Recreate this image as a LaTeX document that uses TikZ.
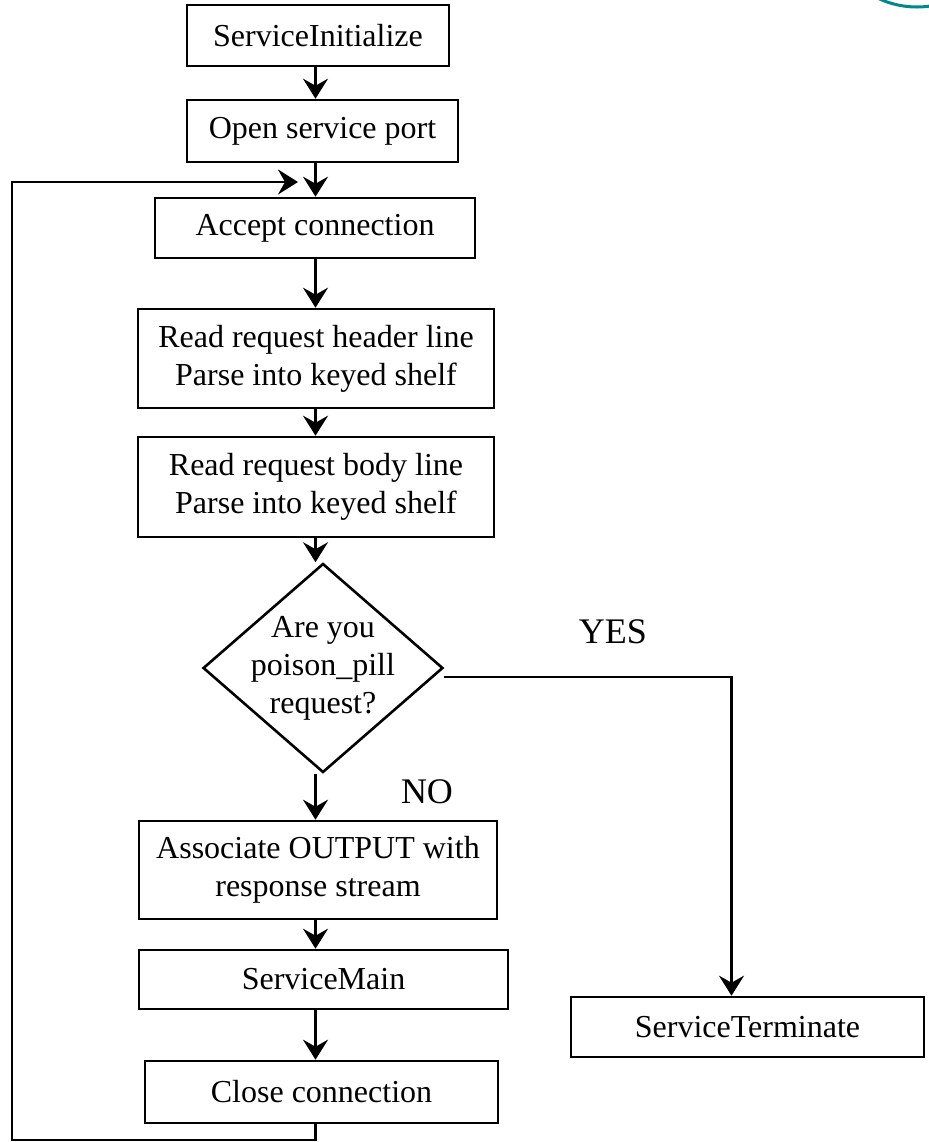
\documentclass[tikz,border=0pt]{standalone}
\usepackage{fontspec}
\setmainfont{Liberation Serif}
\usetikzlibrary{arrows.meta,shapes.geometric}
\definecolor{logoteal}{RGB}{0,136,136}

\begin{document}
\begin{tikzpicture}[x=0.5pt,y=-0.5pt,
  box/.style={draw,line width=1.3pt,inner sep=0pt,align=center,font=\fontsize{16}{19}\selectfont},
  decision/.style={draw,diamond,line width=1.3pt,inner sep=0pt},
  flow/.style={line width=1.3pt,-{Stealth[length=10pt,width=12.5pt,inset=3.5pt]}},
  answer/.style={font=\fontsize{18}{21}\selectfont}]
  \useasboundingbox (0,0) rectangle (928,1142);
  % Logo edge in the corner
  \draw[logoteal,line width=1.5pt] (917,-84) circle[radius=45.5pt];
  % Main column
  \node[box,minimum width=131pt,minimum height=30.5pt] (init) at (318,35.5) {ServiceInitialize};
  \node[box,minimum width=135.5pt,minimum height=31pt] (port) at (322.5,131) {Open service port};
  \node[box,minimum width=160pt,minimum height=30pt] (accept) at (315,228) {Accept connection};
  \node[box,minimum width=178pt,minimum height=49.5pt] (header) at (316,358.5) {Read request header line\\Parse into keyed shelf};
  \node[box,minimum width=178pt,minimum height=50pt] (body) at (316,487) {Read request body line\\Parse into keyed shelf};
  \node[decision,minimum width=120pt,minimum height=104.5pt,
    label={[align=center,font=\fontsize{16}{19}\selectfont]center:{Are you\\poison\_pill\\request?}}] (pill) at (323,668) {};
  \node[box,minimum width=179pt,minimum height=49pt] (assoc) at (318,870) {Associate OUTPUT with\\response stream};
  \node[box,minimum width=184.5pt,minimum height=29.5pt] (main) at (323.5,979.5) {ServiceMain};
  \node[box,minimum width=176.5pt,minimum height=31pt] (close) at (321.5,1092) {Close connection};
  % Exit branch
  \node[box,minimum width=176.5pt,minimum height=30pt] (terminate) at (747.5,1027) {ServiceTerminate};
  \node[answer] (yes) at (613,632) {YES};
  \node[answer] (no) at (427,792) {NO};
  % Helper points
  \coordinate (spine) at (315.5,0);
  \coordinate (merge) at (298,182);
  \coordinate (loopbottom) at (12,1140);
  \coordinate (yesturn) at (731.5,677);
  % Straight arrows
  \draw[flow] (init.south -| spine) -- (port.north -| spine);
  \draw[flow] (port.south -| spine) -- (accept.north -| spine);
  \draw[flow] (accept.south -| spine) -- (header.north -| spine);
  \draw[flow] (header.south -| spine) -- (body.north -| spine);
  \draw[flow] (body.south -| spine) -- (pill.north -| spine);
  \draw[flow] (pill.south -| spine) -- (assoc.north -| spine);
  \draw[flow] (assoc.south -| spine) -- (main.north -| spine);
  \draw[flow] (main.south -| spine) -- (close.north -| spine);
  % Back to accept
  \draw[flow] (close.south -| spine) |- (loopbottom) |- (merge);
  % Poison pill
  \draw[flow] (pill.east |- yesturn) -- (yesturn) -- (terminate.north -| yesturn);
\end{tikzpicture}
\end{document}
